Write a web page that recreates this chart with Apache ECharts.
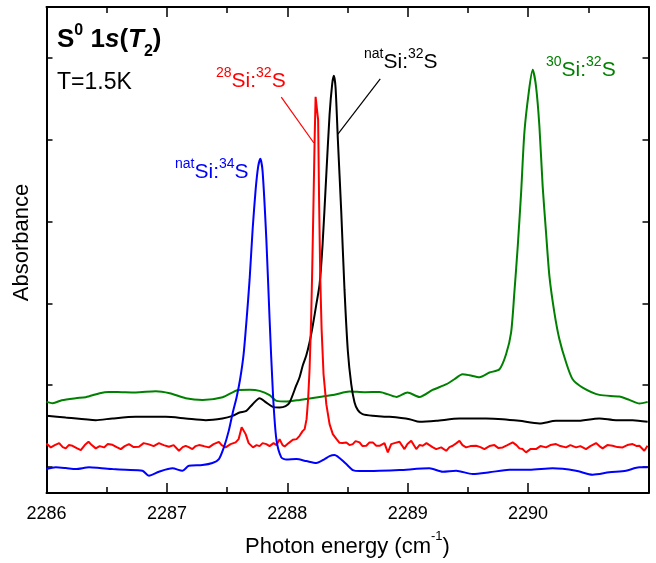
<!DOCTYPE html>
<html>
<head>
<meta charset="utf-8">
<script src="https://cdn.jsdelivr.net/npm/echarts@6/dist/echarts.min.js"></script>
<style>
    html, body { margin: 0; padding: 0; background: #fff; }
    #chart { width: 656px; height: 563px; }
</style>
</head>
<body>
<div id="chart"></div>
<script>
// photon energy (cm-1) vs absorbance (arb. units, traces offset)
let si30_32 = [
    [2286.000, 0.913], [2286.052, 0.90], [2286.127, 0.93], [2286.243, 0.95], [2286.326, 0.96],
    [2286.442, 1.00], [2286.517, 1.013], [2286.625, 1.01], [2286.741, 1.007], [2286.907, 1.02],
    [2287.023, 1.00], [2287.156, 0.95], [2287.297, 0.933], [2287.463, 0.96], [2287.596, 1.033],
    [2287.687, 1.035], [2287.770, 1.023], [2287.853, 0.98], [2287.911, 0.923], [2287.994, 0.917],
    [2288.102, 0.933], [2288.268, 0.963], [2288.392, 0.985], [2288.517, 1.017], [2288.641, 1.01],
    [2288.766, 1.013], [2288.907, 0.963], [2288.998, 1.007], [2289.098, 0.963], [2289.206, 1.033],
    [2289.322, 1.09], [2289.388, 1.14], [2289.455, 1.19], [2289.513, 1.18], [2289.596, 1.16],
    [2289.679, 1.207], [2289.762, 1.24], [2289.817, 1.39], [2289.859, 1.61], [2289.886, 2.01],
    [2289.914, 2.473], [2289.942, 3.01], [2289.969, 3.61], [2290.005, 4.01], [2290.038, 4.24],
    [2290.066, 4.073], [2290.094, 3.673], [2290.121, 3.073], [2290.149, 2.61], [2290.177, 2.173],
    [2290.218, 1.81], [2290.260, 1.54], [2290.315, 1.31], [2290.370, 1.14], [2290.453, 1.057],
    [2290.592, 0.983], [2290.758, 0.967], [2290.841, 0.933], [2290.924, 0.897], [2290.993, 0.913]
];

let natSi32 = [
    [2286.000, 0.775], [2286.160, 0.757], [2286.409, 0.73], [2286.548, 0.747], [2286.741, 0.763],
    [2286.990, 0.763], [2287.156, 0.747], [2287.322, 0.73], [2287.461, 0.747], [2287.546, 0.773],
    [2287.604, 0.807], [2287.660, 0.823], [2287.712, 0.89], [2287.770, 0.95], [2287.820, 0.91],
    [2287.880, 0.863], [2287.936, 0.857], [2287.986, 0.87], [2288.019, 0.907], [2288.075, 1.08],
    [2288.102, 1.16], [2288.129, 1.28], [2288.158, 1.38], [2288.185, 1.51], [2288.212, 1.68],
    [2288.241, 1.89], [2288.268, 2.09], [2288.293, 2.49], [2288.324, 3.19], [2288.351, 3.79],
    [2288.373, 4.10], [2288.387, 4.18], [2288.401, 4.06], [2288.420, 3.54], [2288.448, 2.82],
    [2288.475, 2.04], [2288.503, 1.42], [2288.531, 1.09], [2288.558, 0.91], [2288.586, 0.83],
    [2288.625, 0.79], [2288.708, 0.773], [2288.849, 0.763], [2289.015, 0.74], [2289.098, 0.713],
    [2289.237, 0.723], [2289.430, 0.747], [2289.651, 0.747], [2289.789, 0.74], [2289.928, 0.723],
    [2290.094, 0.697], [2290.232, 0.723], [2290.398, 0.723], [2290.592, 0.747], [2290.730, 0.73],
    [2290.868, 0.73], [2290.993, 0.713]
];

let si28_32 = [
    [2286.000, 0.497], [2286.036, 0.457], [2286.069, 0.48], [2286.105, 0.50], [2286.135, 0.46],
    [2286.160, 0.447], [2286.185, 0.48], [2286.216, 0.473], [2286.251, 0.45], [2286.285, 0.43],
    [2286.318, 0.48], [2286.349, 0.513], [2286.376, 0.48], [2286.409, 0.447], [2286.442, 0.47],
    [2286.478, 0.457], [2286.509, 0.49], [2286.548, 0.483], [2286.583, 0.46], [2286.617, 0.44],
    [2286.650, 0.47], [2286.685, 0.49], [2286.724, 0.46], [2286.768, 0.463], [2286.807, 0.50],
    [2286.851, 0.487], [2286.890, 0.47], [2286.934, 0.50], [2286.973, 0.48], [2287.017, 0.463],
    [2287.056, 0.48], [2287.100, 0.423], [2287.131, 0.46], [2287.156, 0.473], [2287.181, 0.46],
    [2287.212, 0.44], [2287.239, 0.47], [2287.266, 0.48], [2287.305, 0.47], [2287.349, 0.457],
    [2287.388, 0.49], [2287.432, 0.513], [2287.455, 0.48], [2287.488, 0.457], [2287.529, 0.49],
    [2287.571, 0.507], [2287.596, 0.54], [2287.621, 0.66], [2287.637, 0.64], [2287.654, 0.59],
    [2287.679, 0.50], [2287.715, 0.457], [2287.745, 0.48], [2287.770, 0.47], [2287.795, 0.50],
    [2287.826, 0.49], [2287.853, 0.47], [2287.886, 0.50], [2287.911, 0.48], [2287.936, 0.54],
    [2287.961, 0.48], [2287.978, 0.467], [2288.011, 0.50], [2288.046, 0.533], [2288.077, 0.54],
    [2288.102, 0.573], [2288.127, 0.62], [2288.144, 0.64], [2288.160, 0.74], [2288.173, 0.94],
    [2288.185, 1.24], [2288.198, 1.74], [2288.207, 2.24], [2288.218, 2.94], [2288.227, 3.54],
    [2288.235, 3.97], [2288.247, 3.99], [2288.256, 3.74], [2288.264, 2.94], [2288.274, 2.14],
    [2288.285, 1.64], [2288.301, 1.19], [2288.324, 0.89], [2288.351, 0.69], [2288.378, 0.59],
    [2288.409, 0.54], [2288.434, 0.503], [2288.459, 0.50], [2288.490, 0.507], [2288.517, 0.48],
    [2288.544, 0.49], [2288.567, 0.52], [2288.600, 0.507], [2288.625, 0.47], [2288.656, 0.473],
    [2288.683, 0.507], [2288.710, 0.507], [2288.739, 0.473], [2288.766, 0.473], [2288.807, 0.50],
    [2288.835, 0.407], [2288.863, 0.49], [2288.890, 0.50], [2288.932, 0.513], [2288.973, 0.44],
    [2288.998, 0.49], [2289.029, 0.523], [2289.071, 0.44], [2289.098, 0.48], [2289.125, 0.473],
    [2289.156, 0.50], [2289.181, 0.48], [2289.206, 0.46], [2289.237, 0.44], [2289.278, 0.457],
    [2289.320, 0.423], [2289.347, 0.46], [2289.374, 0.473], [2289.405, 0.50], [2289.430, 0.523],
    [2289.455, 0.48], [2289.485, 0.457], [2289.521, 0.47], [2289.568, 0.473], [2289.604, 0.46],
    [2289.637, 0.44], [2289.679, 0.47], [2289.720, 0.48], [2289.754, 0.45], [2289.789, 0.457],
    [2289.828, 0.48], [2289.872, 0.507], [2289.903, 0.48], [2289.928, 0.447], [2289.953, 0.44],
    [2289.983, 0.407], [2290.019, 0.44], [2290.066, 0.44], [2290.102, 0.47], [2290.149, 0.457],
    [2290.185, 0.48], [2290.232, 0.49], [2290.268, 0.47], [2290.315, 0.457], [2290.351, 0.48],
    [2290.398, 0.457], [2290.434, 0.47], [2290.481, 0.44], [2290.517, 0.47], [2290.564, 0.50],
    [2290.592, 0.47], [2290.619, 0.447], [2290.658, 0.48], [2290.702, 0.473], [2290.741, 0.46],
    [2290.785, 0.457], [2290.824, 0.48], [2290.868, 0.49], [2290.903, 0.47], [2290.924, 0.473],
    [2290.965, 0.423], [2290.992, 0.473]
];

let natSi34 = [
    [2286.000, 0.24], [2286.077, 0.257], [2286.160, 0.25], [2286.243, 0.24], [2286.354, 0.257],
    [2286.442, 0.25], [2286.548, 0.24], [2286.658, 0.233], [2286.797, 0.223], [2286.851, 0.173],
    [2286.934, 0.213], [2287.046, 0.247], [2287.129, 0.223], [2287.183, 0.273], [2287.295, 0.28],
    [2287.378, 0.30], [2287.432, 0.34], [2287.474, 0.46], [2287.513, 0.62], [2287.546, 0.80],
    [2287.579, 0.96], [2287.608, 1.14], [2287.637, 1.39], [2287.662, 1.74], [2287.687, 2.14],
    [2287.712, 2.64], [2287.737, 3.04], [2287.758, 3.27], [2287.776, 3.35], [2287.795, 3.22],
    [2287.826, 2.54], [2287.853, 1.74], [2287.881, 0.99], [2287.909, 0.54], [2287.950, 0.357],
    [2287.992, 0.335], [2288.075, 0.34], [2288.158, 0.32], [2288.241, 0.30], [2288.310, 0.34],
    [2288.351, 0.37], [2288.392, 0.38], [2288.434, 0.35], [2288.490, 0.29], [2288.544, 0.23],
    [2288.600, 0.22], [2288.766, 0.223], [2288.932, 0.23], [2289.181, 0.247], [2289.291, 0.213],
    [2289.402, 0.223], [2289.540, 0.19], [2289.679, 0.207], [2289.845, 0.233], [2290.011, 0.233],
    [2290.204, 0.247], [2290.398, 0.223], [2290.536, 0.183], [2290.674, 0.207], [2290.813, 0.223],
    [2290.924, 0.257], [2290.993, 0.257]
];

// leader lines from the labels to the peaks
let redLeader = [[2287.950, 3.967], [2288.221, 3.507]];
let blackLeader = [[2288.772, 4.15], [2288.420, 3.597]];

let yTicks = [0.26, 1.08, 1.90, 2.72, 3.54, 4.365];

let fontFamily = 'Liberation Sans, Arial, Helvetica, sans-serif';

let chart = echarts.init(document.getElementById('chart'));

function frameAxisX(pos, showLabel) {
    return {
        type: 'value',
        position: pos,
        min: 2286,
        max: 2291,
        interval: 1,
        axisLine: {show: true, onZero: false, lineStyle: {color: '#000', width: 2}},
        axisTick: {show: true, inside: true, length: 10, lineStyle: {color: '#000', width: 1.5}},
        minorTick: {show: true, splitNumber: 2, length: 6, lineStyle: {color: '#000', width: 1.5}},
        splitLine: {show: false},
        axisLabel: {
            show: showLabel,
            color: '#000',
            fontSize: 18,
            fontFamily: fontFamily,
            margin: 12,
            formatter: function (v) {
                return v < 2291 ? String(v) : '';
            }
        }
    };
}

function frameAxisY(pos) {
    return {
        type: 'value',
        position: pos,
        min: 0,
        max: 4.87,
        axisLine: {show: true, onZero: false, lineStyle: {color: '#000', width: 2}},
        axisTick: {show: true, inside: true, length: 6, customValues: yTicks, lineStyle: {color: '#000', width: 1.5}},
        splitLine: {show: false},
        axisLabel: {show: false}
    };
}

let xBottom = frameAxisX('bottom', true);
xBottom.name = '{a|Photon energy (cm}{s|-1}{a|)}';
xBottom.nameLocation = 'middle';
xBottom.nameGap = 37;
xBottom.nameTextStyle = {
    rich: {
        a: {fontSize: 22, fontFamily: fontFamily, color: '#000', lineHeight: 28, verticalAlign: 'bottom'},
        s: {fontSize: 13, fontFamily: fontFamily, color: '#000', lineHeight: 13, verticalAlign: 'top'}
    }
};

let yLeft = frameAxisY('left');
yLeft.name = 'Absorbance';
yLeft.nameLocation = 'middle';
yLeft.nameGap = 14;
yLeft.nameTextStyle = {fontSize: 22, fontFamily: fontFamily, color: '#000', padding: [0, 0, 0, 15]};

function lineSeries(name, data, color, smooth) {
    return {
        name: name,
        type: 'line',
        data: data,
        showSymbol: false,
        smooth: smooth,
        lineStyle: {color: color, width: 2},
        itemStyle: {color: color},
        xAxisIndex: 0,
        yAxisIndex: 0,
        z: 3
    };
}

let labelRich = function (color) {
    return {
        b: {fontSize: 21, fontFamily: fontFamily, fill: color, lineHeight: 30, verticalAlign: 'middle'},
        s: {fontSize: 14, fontFamily: fontFamily, fill: color, lineHeight: 14, verticalAlign: 'top'}
    };
};

let option = {
    animation: false,
    backgroundColor: '#fff',
    grid: {left: 46.5, right: 7.5, top: 7, bottom: 69, containLabel: false},
    xAxis: [xBottom, frameAxisX('top', false)],
    yAxis: [yLeft, frameAxisY('right')],
    series: [
        lineSeries('30Si:32S', si30_32, '#008000', 0.25),
        lineSeries('natSi:32S', natSi32, '#000000', 0.25),
        lineSeries('28Si:32S', si28_32, '#ff0000', false),
        lineSeries('natSi:34S', natSi34, '#0000ff', 0.25)
    ],
    graphic: [
        {
            type: 'text', left: 57, top: 23,
            style: {
                text: '{b|S}{s|0}{b| 1}{i|s}{b|(}{i|T}{u|2}{b|)}',
                rich: {
                    b: {fontSize: 26, fontWeight: 'bold', fontFamily: fontFamily, fill: '#000', lineHeight: 33, verticalAlign: 'middle'},
                    i: {fontSize: 26, fontWeight: 'bold', fontStyle: 'italic', fontFamily: fontFamily, fill: '#000', lineHeight: 33, verticalAlign: 'middle'},
                    s: {fontSize: 16, fontWeight: 'bold', fontFamily: fontFamily, fill: '#000', lineHeight: 16, verticalAlign: 'top'},
                    u: {fontSize: 16, fontWeight: 'bold', fontFamily: fontFamily, fill: '#000', lineHeight: 16, verticalAlign: 'bottom', padding: [0, 0, -4, 0]}
                }
            }
        },
        {
            type: 'text', left: 57, top: 71,
            style: {text: 'T=1.5K', fontSize: 23, fontFamily: fontFamily, fill: '#000'}
        },
        {
            type: 'text', left: 216, top: 66,
            style: {text: '{s|28}{b|Si:}{s|32}{b|S}', rich: labelRich('#ff0000')}
        },
        {
            type: 'text', left: 175, top: 157,
            style: {text: '{s|nat}{b|Si:}{s|34}{b|S}', rich: labelRich('#0000ff')}
        },
        {
            type: 'text', left: 364, top: 47,
            style: {text: '{s|nat}{b|Si:}{s|32}{b|S}', rich: labelRich('#000000')}
        },
        {
            type: 'text', left: 546, top: 55,
            style: {text: '{s|30}{b|Si:}{s|32}{b|S}', rich: labelRich('#008000')}
        }
    ]
};

option.series[2].markLine = {
    silent: true, symbol: 'none', label: {show: false},
    lineStyle: {color: '#ff0000', width: 1.2, type: 'solid'},
    data: [[{coord: redLeader[0]}, {coord: redLeader[1]}]]
};
option.series[1].markLine = {
    silent: true, symbol: 'none', label: {show: false},
    lineStyle: {color: '#000000', width: 1.2, type: 'solid'},
    data: [[{coord: blackLeader[0]}, {coord: blackLeader[1]}]]
};

chart.setOption(option);
</script>
</body>
</html>
